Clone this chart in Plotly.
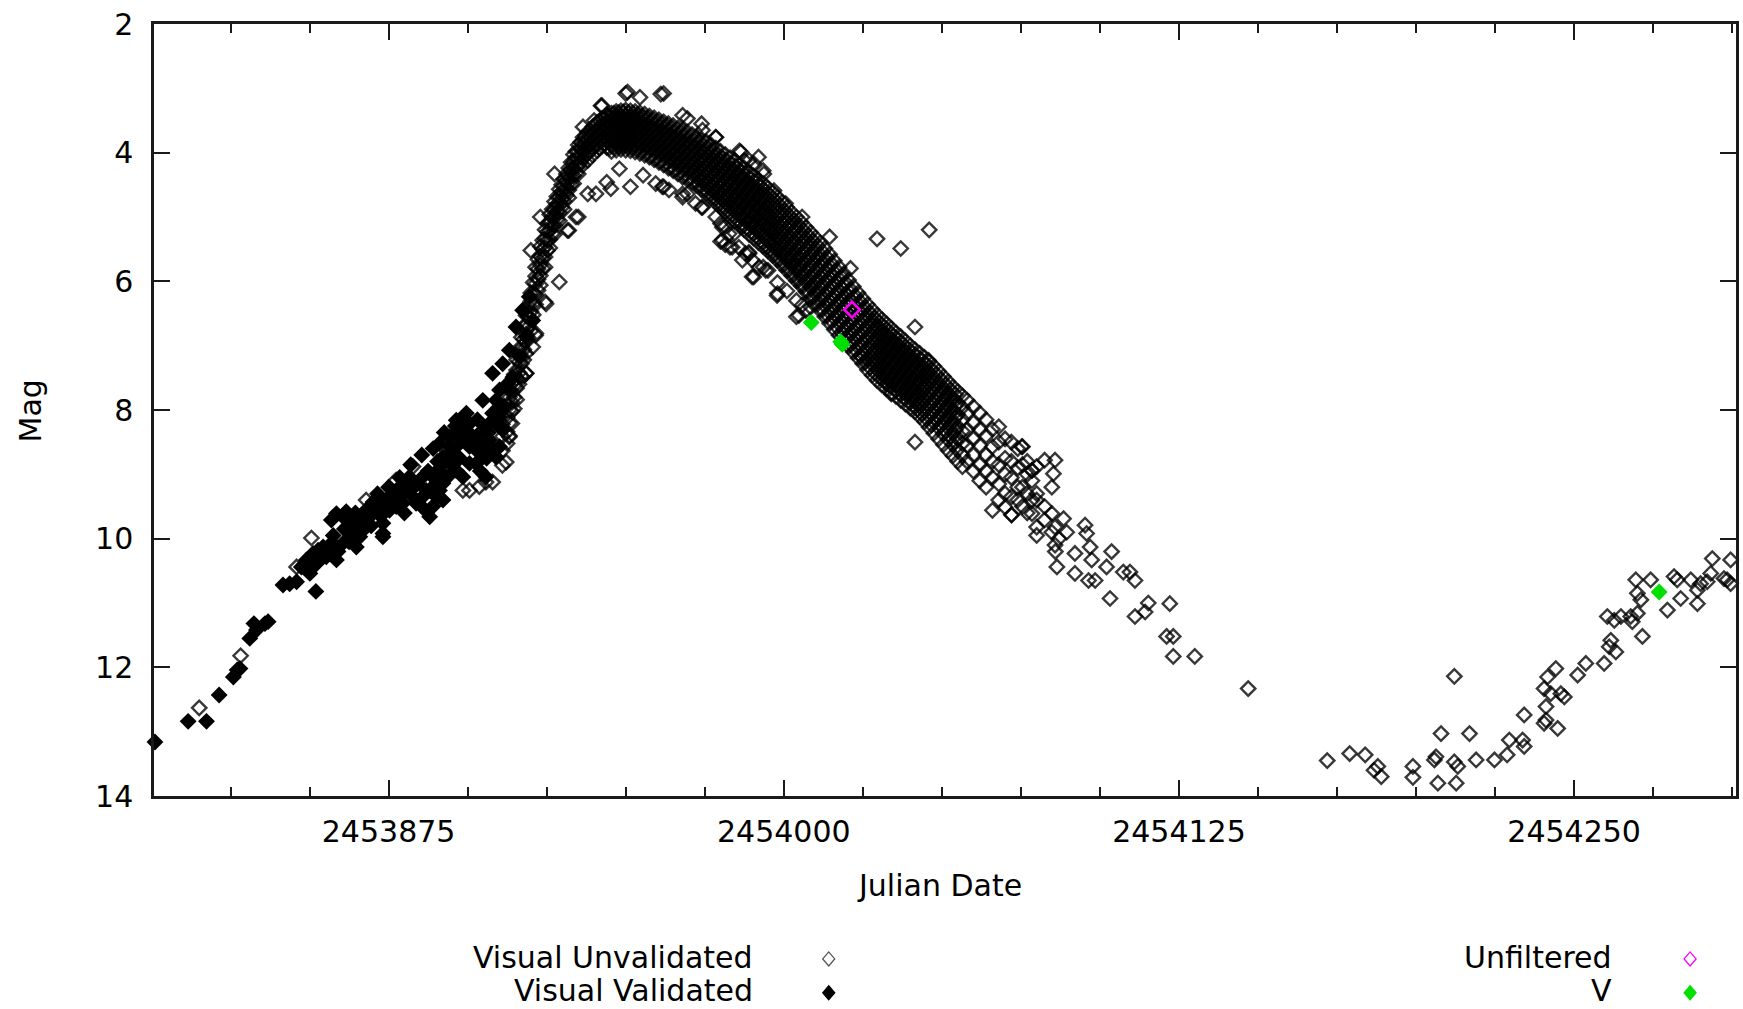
import plotly.graph_objects as go

# ---------------- DATA ----------------
# Visual Validated (filled black diamonds)
val_jd = [2453801.1, 2453811.6, 2453817.4, 2453821.4, 2453825.9, 2453827.1, 2453828.0,
          2453831.1, 2453832.4, 2453833.2, 2453835.9, 2453836.9, 2453841.6, 2453843.7,
          2453845.9, 2453852.0, 2453847.4, 2453849.0, 2453850.1, 2453851.1, 2453852.7,
          2453854.3, 2453855.3, 2453856.9, 2453858.5, 2453856.9, 2453858.5, 2453860.6,
          2453862.7, 2453861.6, 2453863.7, 2453864.8, 2453865.9, 2453866.9, 2453870.1,
          2453872.2, 2453873.2, 2453873.2, 2453875.3, 2453877.4, 2453878.5, 2453879.5,
          2453880.6, 2453881.6, 2453882.7, 2453883.7, 2453885.8, 2453886.9, 2453888.0,
          2453889.0, 2453890.1, 2453891.1, 2453892.2, 2453890.1, 2453892.2, 2453894.3,
          2453891.1, 2453894.3, 2453896.4, 2453898.5, 2453900.6, 2453902.7, 2453904.8,
          2453906.9, 2453909.0, 2453910.1, 2453911.1, 2453896.4, 2453898.5, 2453900.6,
          2453902.7, 2453904.8, 2453905.8, 2453909.0, 2453910.1, 2453904.8, 2453907.9,
          2453911.1, 2453913.2, 2453915.3, 2453917.4, 2453919.5, 2453910.1, 2453913.2,
          2453914.3, 2453916.4, 2453918.5, 2453920.6,
          2453881.6, 2453883.7, 2453885.8, 2453888.0, 2453889.0, 2453891.1, 2453892.2,
          2453894.3, 2453896.4, 2453898.5, 2453900.6, 2453902.7, 2453904.8, 2453906.9,
          2453907.9, 2453909.0, 2453898.5, 2453900.6, 2453896.4, 2453894.3, 2453892.2,
          2453890.1, 2453879.5, 2453877.4, 2453875.3, 2453873.2, 2453871.1, 2453869.0,
          2453866.9, 2453864.8, 2453862.7, 2453860.6, 2453858.5, 2453856.4, 2453854.3,
          2453852.2, 2453850.1, 2453873.2,
          2453857.5, 2453859.0, 2453861.0, 2453862.5, 2453864.5, 2453866.0, 2453868.0,
          2453869.5, 2453871.5, 2453872.5, 2453875.0, 2453876.5, 2453878.5, 2453880.0,
          2453882.0, 2453884.0, 2453885.5, 2453886.5, 2453887.5, 2453889.1, 2453890.5,
          2453892.6, 2453893.5, 2453895.0, 2453896.1, 2453897.5, 2453899.6, 2453901.0,
          2453903.1, 2453904.0, 2453906.6, 2453908.0, 2453910.1, 2453911.5, 2453912.5,
          2453906.0]
val_mag = [13.16, 12.84, 12.84, 12.43, 12.15, 12.04, 12.02,
           11.55, 11.32, 11.42, 11.32, 11.29, 10.72, 10.70,
           10.67, 10.82, 10.44, 10.33, 10.54, 10.23, 10.18,
           10.13, 10.28, 10.07, 10.33, 9.71, 9.61, 9.66,
           9.76, 9.58, 9.66, 10.13, 9.97, 9.87, 9.43,
           9.40, 9.76, 9.92, 9.56, 9.50, 9.35, 9.25,
           9.14, 9.04, 9.35, 9.45, 9.04, 9.25, 9.66,
           9.50, 9.35, 9.25, 9.40, 8.96, 8.83, 8.73,
           8.52, 8.42, 8.16, 8.11, 8.21, 8.42, 8.57,
           8.47, 8.21, 8.11, 8.31, 8.94, 9.04, 8.83,
           8.83, 8.73, 9.04, 8.73, 8.57, 7.85, 7.43,
           7.28, 7.07, 6.71, 6.45, 6.24, 7.69, 7.69,
           7.49, 7.17, 6.86, 6.61,
           9.25, 9.14, 9.35, 9.25, 9.04, 8.94, 8.73,
           8.83, 8.57, 8.47, 8.57, 8.62, 8.31, 8.21,
           8.05, 7.85, 8.31, 8.36, 8.36, 8.57, 9.14,
           9.14, 9.45, 9.25, 9.35, 9.50, 9.56, 9.66,
           9.66, 9.87, 9.92, 10.07, 10.13, 10.23, 10.28,
           10.39, 10.44, 9.97,
           9.95, 10.20, 9.85, 10.05, 9.60, 9.75, 9.55,
           9.80, 9.30, 9.65, 9.20, 9.45, 9.05, 9.60,
           8.85, 9.15, 8.70, 9.55, 8.95, 8.60, 8.80,
           8.35, 9.05, 8.65, 8.25, 8.75, 8.05, 8.50,
           8.15, 8.95, 8.35, 8.60, 8.05, 7.95, 7.60,
           8.75]

# Visual Unvalidated: scattered points on the early rise
rise_jd = [2453815.1, 2453828.2, 2453845.9, 2453850.6, 2453867.9, 2453877.4, 2453882.7,
           2453898.5, 2453900.6, 2453903.7, 2453905.8, 2453907.9, 2453912.2, 2453913.2,
           2453917.4, 2453918.5, 2453920.6, 2453921.6, 2453924.8]
rise_mag = [12.63, 11.82, 10.44, 9.99, 9.40, 9.09, 8.88,
            9.25, 9.25, 9.19, 9.12, 9.12, 8.81, 8.42,
            7.49, 7.43, 7.02, 6.81, 6.35]

# Visual Unvalidated: nightly estimates through maximum and the decline
band_jd = [2453911.0, 2453912.5, 2453914.0, 2453915.5, 2453917.0, 2453918.5, 2453920.0,
           2453921.5, 2453923.0, 2453924.5, 2453926.0, 2453927.5, 2453929.0, 2453930.5,
           2453932.0, 2453933.5, 2453935.0, 2453936.5, 2453938.0, 2453939.5, 2453941.0,
           2453942.5, 2453944.0, 2453945.5, 2453947.0, 2453948.5, 2453950.0, 2453951.5,
           2453953.0, 2453954.5, 2453956.0, 2453957.5, 2453959.0, 2453960.5, 2453962.0,
           2453963.5, 2453965.0, 2453966.5, 2453968.0, 2453969.5, 2453971.0, 2453972.5,
           2453974.0, 2453975.5, 2453977.0, 2453978.5, 2453980.0, 2453981.5, 2453983.0,
           2453984.5, 2453986.0, 2453987.5, 2453989.0, 2453990.5, 2453992.0, 2453993.5,
           2453995.0, 2453996.5, 2453998.0, 2453999.5, 2454001.0, 2454002.5, 2454004.0,
           2454005.5, 2454007.0, 2454008.5, 2454010.0, 2454011.5, 2454013.0, 2454014.5,
           2454016.0, 2454017.5, 2454019.0, 2454020.5, 2454022.0, 2454023.5, 2454025.0,
           2454026.5, 2454028.0, 2454029.5, 2454031.0, 2454032.5, 2454034.0, 2454035.5,
           2454037.0, 2454038.5, 2454040.0, 2454041.5, 2454043.0, 2454044.5, 2454046.0,
           2454047.5, 2454049.0, 2454050.5, 2454052.0, 2454053.5, 2454055.0, 2454056.5,
           2454058.0, 2454060.0, 2454062.0, 2454064.0, 2454066.0, 2454068.0, 2454070.0,
           2454072.0, 2454074.0, 2454075.5, 2454077.0, 2454078.5, 2454080.0, 2454082.5,
           2454084.8]
band_mag = [
    [8.22, 8.41, 8.63, 8.86], [7.93, 8.12, 8.34, 8.52], [7.58, 7.72, 7.88, 8.02, 8.21],
    [7.22, 7.38, 7.51, 7.66, 7.84], [6.87, 7.01, 7.16, 7.28, 7.47],
    [6.53, 6.66, 6.82, 6.94, 7.12, 7.43], [6.18, 6.31, 6.47, 6.58, 6.77, 5.52],
    [5.78, 5.92, 6.04, 6.21, 6.36, 6.84], [5.46, 5.61, 5.74, 5.91, 6.06, 5.0],
    [5.2, 5.34, 5.47, 5.62, 5.78, 6.32], [4.96, 5.09, 5.21, 5.35, 5.48],
    [4.76, 4.88, 5.01, 5.13, 5.27, 4.33], [4.57, 4.69, 4.81, 4.93, 5.06, 6.01],
    [4.41, 4.52, 4.63, 4.75, 4.88], [4.24, 4.36, 4.47, 4.58, 4.7, 5.21],
    [4.03, 4.14, 4.25, 4.36, 4.48], [3.88, 3.99, 4.1, 4.21, 4.33, 5.0],
    [3.76, 3.86, 3.97, 4.08, 4.19, 3.6], [3.68, 3.79, 3.9, 4.01, 4.12, 4.64],
    [3.6, 3.71, 3.82, 3.93, 4.04], [3.53, 3.64, 3.75, 3.86, 3.97],
    [3.47, 3.58, 3.68, 3.79, 3.9, 3.27], [3.42, 3.52, 3.61, 3.71, 3.81, 3.92, 4.46],
    [3.39, 3.48, 3.58, 3.68, 3.78, 3.89, 3.98], [3.36, 3.45, 3.56, 3.65, 3.75, 3.86, 3.96],
    [3.35, 3.44, 3.53, 3.64, 3.74, 3.84, 3.95],
    [3.34, 3.43, 3.53, 3.63, 3.73, 3.83, 3.96, 3.08],
    [3.35, 3.45, 3.54, 3.64, 3.75, 3.85, 3.97, 4.53],
    [3.36, 3.46, 3.56, 3.66, 3.76, 3.87, 3.99],
    [3.38, 3.48, 3.58, 3.68, 3.79, 3.89, 4.01, 3.14],
    [3.4, 3.5, 3.6, 3.71, 3.81, 3.92, 4.04], [3.43, 3.53, 3.63, 3.74, 3.84, 3.95, 4.07],
    [3.46, 3.56, 3.66, 3.77, 3.88, 3.99, 4.11], [3.49, 3.59, 3.7, 3.8, 3.91, 4.03, 4.15],
    [3.52, 3.62, 3.73, 3.84, 3.95, 4.07, 4.19, 3.08, 4.53],
    [3.55, 3.66, 3.77, 3.88, 3.99, 4.11, 4.24], [3.58, 3.69, 3.8, 3.92, 4.03, 4.15, 4.28],
    [3.62, 3.73, 3.84, 3.96, 4.08, 4.2, 4.33],
    [3.65, 3.76, 3.88, 4.0, 4.12, 4.25, 4.38, 3.42],
    [3.68, 3.8, 3.92, 4.04, 4.16, 4.29, 4.42, 4.64],
    [3.72, 3.84, 3.96, 4.08, 4.2, 4.33, 4.46], [3.75, 3.87, 4.0, 4.12, 4.25, 4.38, 4.51],
    [3.79, 3.92, 4.05, 4.18, 4.31, 4.44, 4.58, 4.85, 3.55],
    [3.83, 3.96, 4.1, 4.23, 4.37, 4.5, 4.64], [3.88, 4.01, 4.15, 4.29, 4.43, 4.57, 4.71],
    [3.93, 4.06, 4.2, 4.35, 4.49, 4.63, 4.78, 5.0, 3.76],
    [3.98, 4.12, 4.26, 4.41, 4.55, 4.7, 4.85, 5.1, 5.38],
    [4.03, 4.17, 4.32, 4.47, 4.62, 4.77, 4.92, 5.15, 5.43],
    [4.08, 4.23, 4.38, 4.53, 4.68, 4.84, 4.99, 5.47],
    [4.13, 4.28, 4.44, 4.59, 4.75, 4.91, 5.07, 5.25],
    [4.19, 4.34, 4.5, 4.66, 4.82, 4.98, 5.14, 3.97],
    [4.24, 4.4, 4.56, 4.72, 4.88, 5.04, 5.2, 4.12],
    [4.3, 4.46, 4.62, 4.78, 4.94, 5.1, 5.27, 5.55],
    [4.36, 4.52, 4.68, 4.84, 5.0, 5.16, 5.33, 4.17, 5.93],
    [4.42, 4.58, 4.74, 4.9, 5.07, 5.23, 5.4, 4.07],
    [4.48, 4.64, 4.8, 4.97, 5.13, 5.3, 5.46, 5.78, 4.28],
    [4.55, 4.71, 4.87, 5.04, 5.2, 5.37, 5.53, 5.83],
    [4.62, 4.78, 4.94, 5.11, 5.27, 5.44, 5.6],
    [4.69, 4.85, 5.01, 5.18, 5.34, 5.51, 5.67, 6.02, 6.19],
    [4.77, 4.93, 5.09, 5.25, 5.42, 5.58, 5.75],
    [4.85, 5.01, 5.17, 5.33, 5.5, 5.66, 5.83, 6.15],
    [4.93, 5.09, 5.25, 5.41, 5.58, 5.74, 5.91],
    [5.0, 5.17, 5.33, 5.49, 5.66, 5.82, 5.99, 6.3, 6.55],
    [5.08, 5.25, 5.41, 5.58, 5.74, 5.91, 6.07],
    [5.16, 5.33, 5.5, 5.66, 5.83, 6.0, 6.16, 6.45],
    [5.24, 5.41, 5.58, 5.75, 5.92, 6.09, 6.26, 6.4],
    [5.32, 5.49, 5.66, 5.84, 6.01, 6.18, 6.35],
    [5.4, 5.58, 5.75, 5.93, 6.1, 6.28, 6.45],
    [5.49, 5.67, 5.85, 6.02, 6.2, 6.38, 6.55],
    [5.58, 5.76, 5.94, 6.12, 6.3, 6.48, 6.65, 5.31],
    [5.68, 5.86, 6.04, 6.22, 6.4, 6.57, 6.75],
    [5.78, 5.96, 6.14, 6.31, 6.49, 6.66, 6.84],
    [5.88, 6.05, 6.23, 6.4, 6.58, 6.75, 6.92],
    [5.98, 6.15, 6.32, 6.5, 6.67, 6.84, 7.01],
    [6.08, 6.25, 6.42, 6.59, 6.76, 6.93, 7.1],
    [6.18, 6.35, 6.51, 6.68, 6.85, 7.02, 7.19],
    [6.27, 6.44, 6.61, 6.78, 6.95, 7.12, 7.28],
    [6.36, 6.53, 6.7, 6.87, 7.04, 7.21, 7.38],
    [6.44, 6.61, 6.78, 6.95, 7.12, 7.29, 7.46],
    [6.52, 6.69, 6.86, 7.03, 7.2, 7.37, 7.54, 5.34],
    [6.59, 6.76, 6.93, 7.1, 7.27, 7.44, 7.61],
    [6.66, 6.83, 7.0, 7.17, 7.34, 7.5, 7.67, 7.59],
    [6.73, 6.9, 7.06, 7.23, 7.4, 7.56, 7.73, 7.75],
    [6.8, 6.96, 7.13, 7.29, 7.46, 7.62, 7.79],
    [6.86, 7.03, 7.19, 7.36, 7.52, 7.68, 7.85, 5.49],
    [6.93, 7.09, 7.26, 7.42, 7.58, 7.75, 7.91],
    [7.0, 7.16, 7.32, 7.48, 7.65, 7.81, 7.97],
    [7.06, 7.22, 7.38, 7.55, 7.71, 7.87, 8.03, 6.71, 8.5],
    [7.12, 7.29, 7.45, 7.61, 7.78, 7.94, 8.1],
    [7.18, 7.35, 7.52, 7.68, 7.85, 8.02, 8.18],
    [7.25, 7.42, 7.59, 7.76, 7.93, 8.1, 8.27, 5.2],
    [7.32, 7.5, 7.67, 7.85, 8.02, 8.19, 8.36],
    [7.4, 7.58, 7.76, 7.93, 8.11, 8.28, 8.45],
    [7.48, 7.66, 7.84, 8.02, 8.2, 8.37, 8.54],
    [7.56, 7.74, 7.92, 8.1, 8.28, 8.46, 8.63],
    [7.64, 7.82, 8.0, 8.18, 8.36, 8.54, 8.71],
    [7.71, 7.89, 8.07, 8.26, 8.44, 8.62, 8.8],
    [7.78, 7.96, 8.15, 8.33, 8.52, 8.7, 8.88],
    [7.85, 8.05, 8.3, 8.55, 8.8], [7.95, 8.2, 8.45, 8.7, 8.95],
    [8.05, 8.3, 8.55, 8.85, 9.1], [8.15, 8.4, 8.7, 8.95, 9.2],
    [8.3, 8.57, 8.8, 9.05, 9.56], [8.26, 8.5, 8.85, 9.15, 9.4],
    [8.45, 8.75, 9.0, 9.3, 9.51], [8.5, 8.8, 9.05, 9.35, 9.63],
    [8.6, 8.9, 9.2, 9.4], [8.57, 8.85, 9.2, 9.5], [8.8, 9.0, 9.3, 9.6],
    [8.94, 9.1, 9.4, 9.61], [8.88, 9.3, 9.4, 9.82, 9.95], [8.78, 9.5, 9.71],
    [9.2, 9.61, 9.9],
]

# Visual Unvalidated: further estimates on the nights in between (dense core)
core_jd = [2453913.25, 2453914.75, 2453916.25, 2453917.75, 2453919.25, 2453920.75,
           2453922.25, 2453923.75, 2453925.25, 2453926.75, 2453928.25, 2453929.75,
           2453931.25, 2453932.75, 2453934.25, 2453935.75, 2453937.25, 2453938.75,
           2453940.25, 2453941.75, 2453943.25, 2453944.75, 2453946.25, 2453947.75,
           2453949.25, 2453950.75, 2453952.25, 2453953.75, 2453955.25, 2453956.75,
           2453958.25, 2453959.75, 2453961.25, 2453962.75, 2453964.25, 2453965.75,
           2453967.25, 2453968.75, 2453970.25, 2453971.75, 2453973.25, 2453974.75,
           2453976.25, 2453977.75, 2453979.25, 2453980.75, 2453982.25, 2453983.75,
           2453985.25, 2453986.75, 2453988.25, 2453989.75, 2453991.25, 2453992.75,
           2453994.25, 2453995.75, 2453997.25, 2453998.75, 2454000.25, 2454001.75,
           2454003.25, 2454004.75, 2454006.25, 2454007.75, 2454009.25, 2454010.75,
           2454012.25, 2454013.75, 2454015.25, 2454016.75, 2454018.25, 2454019.75,
           2454021.25, 2454022.75, 2454024.25, 2454025.75, 2454027.25, 2454028.75,
           2454030.25, 2454031.75, 2454033.25, 2454034.75, 2454036.25, 2454037.75,
           2454039.25, 2454040.75, 2454042.25, 2454043.75, 2454045.25, 2454046.75,
           2454048.25, 2454049.75, 2454051.25, 2454052.75, 2454054.25]
core_mag = [
    [7.8, 8.0, 8.2, 8.4], [7.45, 7.62, 7.8, 7.98], [7.08, 7.25, 7.42, 7.6],
    [6.72, 6.9, 7.06, 7.22], [6.38, 6.55, 6.71, 6.88], [6.02, 6.18, 6.35, 6.52],
    [5.66, 5.81, 5.97, 6.14], [5.36, 5.5, 5.64, 5.8], [5.1, 5.23, 5.36, 5.52],
    [4.88, 5.0, 5.13, 5.26], [4.68, 4.8, 4.92, 5.04], [4.5, 4.61, 4.72, 4.85],
    [4.33, 4.44, 4.55, 4.66], [4.15, 4.26, 4.37, 4.49], [3.98, 4.09, 4.2, 4.32],
    [3.84, 3.94, 4.05, 4.16], [3.74, 3.84, 3.94, 4.05], [3.66, 3.76, 3.87, 3.98],
    [3.58, 3.68, 3.79, 3.9], [3.51, 3.62, 3.72, 3.83, 3.93],
    [3.46, 3.56, 3.66, 3.76, 3.86], [3.42, 3.52, 3.62, 3.72, 3.83, 3.93],
    [3.39, 3.49, 3.6, 3.7, 3.8, 3.91], [3.38, 3.48, 3.58, 3.69, 3.79, 3.9],
    [3.37, 3.47, 3.57, 3.68, 3.78, 3.89], [3.38, 3.48, 3.58, 3.68, 3.79, 3.9],
    [3.39, 3.49, 3.6, 3.7, 3.81, 3.92], [3.41, 3.51, 3.62, 3.72, 3.83, 3.94],
    [3.44, 3.54, 3.65, 3.75, 3.86, 3.97], [3.47, 3.57, 3.68, 3.78, 3.89, 4.0],
    [3.5, 3.6, 3.71, 3.82, 3.93, 4.04], [3.53, 3.63, 3.74, 3.85, 3.96, 4.08],
    [3.56, 3.66, 3.78, 3.89, 4.0, 4.12], [3.59, 3.7, 3.81, 3.93, 4.04, 4.16],
    [3.62, 3.73, 3.85, 3.97, 4.09, 4.21], [3.66, 3.77, 3.89, 4.01, 4.13, 4.26],
    [3.69, 3.81, 3.93, 4.05, 4.17, 4.3], [3.73, 3.85, 3.97, 4.09, 4.21, 4.34],
    [3.76, 3.88, 4.01, 4.13, 4.26, 4.39], [3.8, 3.92, 4.05, 4.17, 4.3, 4.43],
    [3.84, 3.97, 4.1, 4.23, 4.36, 4.5], [3.88, 4.01, 4.15, 4.28, 4.42, 4.56],
    [3.93, 4.06, 4.2, 4.34, 4.48, 4.62], [3.98, 4.12, 4.26, 4.4, 4.54, 4.69],
    [4.03, 4.17, 4.31, 4.46, 4.61, 4.76], [4.08, 4.22, 4.37, 4.52, 4.67, 4.83],
    [4.13, 4.28, 4.43, 4.58, 4.74, 4.9], [4.18, 4.33, 4.49, 4.65, 4.81, 4.97],
    [4.24, 4.39, 4.55, 4.71, 4.87, 5.04], [4.3, 4.45, 4.61, 4.77, 4.94, 5.1],
    [4.35, 4.51, 4.67, 4.84, 5.0, 5.17], [4.41, 4.57, 4.73, 4.9, 5.06, 5.23],
    [4.47, 4.63, 4.8, 4.96, 5.13, 5.3], [4.53, 4.7, 4.86, 5.03, 5.2, 5.37],
    [4.6, 4.76, 4.93, 5.1, 5.27, 5.44], [4.67, 4.83, 5.0, 5.17, 5.34, 5.51],
    [4.74, 4.9, 5.07, 5.24, 5.41, 5.58], [4.82, 4.98, 5.15, 5.32, 5.49, 5.66],
    [4.9, 5.06, 5.23, 5.4, 5.57, 5.74], [4.98, 5.14, 5.31, 5.48, 5.65, 5.82],
    [5.05, 5.22, 5.39, 5.56, 5.73, 5.9], [5.13, 5.3, 5.47, 5.64, 5.81, 5.98],
    [5.21, 5.38, 5.55, 5.72, 5.9, 6.07], [5.29, 5.46, 5.64, 5.81, 5.99, 6.16],
    [5.37, 5.55, 5.72, 5.9, 6.08, 6.25], [5.45, 5.63, 5.81, 5.99, 6.17, 6.35],
    [5.54, 5.72, 5.9, 6.08, 6.26, 6.44], [5.63, 5.81, 5.99, 6.17, 6.35, 6.53],
    [5.73, 5.91, 6.09, 6.27, 6.45, 6.62], [5.83, 6.01, 6.19, 6.36, 6.54, 6.71],
    [5.93, 6.1, 6.28, 6.45, 6.63, 6.8], [6.03, 6.2, 6.37, 6.55, 6.72, 6.89],
    [6.13, 6.3, 6.47, 6.64, 6.81, 6.98], [6.23, 6.4, 6.56, 6.73, 6.9, 7.07],
    [6.32, 6.49, 6.66, 6.83, 7.0, 7.16], [6.41, 6.58, 6.75, 6.92, 7.09, 7.26],
    [6.49, 6.66, 6.83, 7.0, 7.17, 7.34], [6.57, 6.74, 6.91, 7.08, 7.25, 7.42],
    [6.64, 6.81, 6.98, 7.15, 7.32, 7.49], [6.71, 6.88, 7.05, 7.22, 7.39, 7.55],
    [6.78, 6.95, 7.11, 7.28, 7.45, 7.61], [6.85, 7.01, 7.18, 7.34, 7.51, 7.67],
    [6.91, 7.08, 7.24, 7.41, 7.57, 7.73], [6.98, 7.14, 7.31, 7.47, 7.63, 7.8],
    [7.05, 7.21, 7.37, 7.53, 7.7, 7.86], [7.11, 7.27, 7.43, 7.6, 7.76, 7.92],
    [7.17, 7.34, 7.5, 7.66, 7.83, 7.99], [7.23, 7.4, 7.57, 7.73, 7.9, 8.06],
    [7.3, 7.47, 7.64, 7.81, 7.98, 8.14], [7.37, 7.55, 7.72, 7.89, 8.06, 8.23],
    [7.45, 7.63, 7.8, 7.98, 8.15], [7.53, 7.71, 7.89, 8.06, 8.24],
    [7.61, 7.79, 7.97, 8.15, 8.33], [7.69, 7.87, 8.05, 8.23, 8.41],
    [7.76, 7.94, 8.12, 8.31, 8.49],
]

# Visual Unvalidated: scattered estimates around the edges of the main band
fringe_jd = [2453950.6, 2453961.1, 2453942.2, 2453940.0, 2453969.5, 2453974.3, 2453978.5,
             2453986.4, 2453989.0, 2453993.7, 2453996.9, 2454000.6, 2454005.8, 2454021.1,
             2453945.3, 2453940.6, 2453934.3, 2453931.6, 2453961.6, 2453968.0, 2453974.3,
             2453980.6, 2453983.7, 2453989.0, 2453990.0, 2453994.3, 2453997.9, 2454004.8,
             2454005.8, 2454024.8, 2454045.8, 2453980.6, 2453982.7, 2453985.8, 2453987.9,
             2453990.0, 2453992.2, 2453986.9, 2453959.5, 2453963.7, 2453968.0, 2453972.1,
             2453955.5, 2453948.0]
fringe_mag = [3.06, 3.09, 3.27, 3.50, 3.47, 3.65, 3.76,
              3.99, 4.12, 4.33, 4.59, 4.79, 5.00, 5.80,
              4.56, 4.64, 5.00, 5.21, 4.53, 4.64, 4.85,
              5.36, 5.47, 5.57, 5.93, 5.83, 6.22, 6.53,
              6.37, 7.18, 7.23, 5.16, 5.26, 5.47, 5.57,
              5.67, 5.78, 5.67, 4.48, 4.58, 4.69, 4.79,
              4.35, 4.25]

# Visual Unvalidated: late decline, minimum and the following rise
tail_jd = [2454075.3, 2454085.8, 2454085.3, 2454078.5, 2454095.3, 2454095.8, 2454088.5,
           2454085.8, 2454072.1, 2454085.8, 2454085.9, 2454086.4, 2454092.1, 2454092.1,
           2454096.9, 2454097.4, 2454096.4, 2454098.5, 2454103.7, 2454102.1, 2454107.4,
           2454109.5, 2454111.1, 2454103.2, 2454111.1, 2454114.3, 2454115.3, 2454122.1,
           2454121.1, 2454123.2, 2454123.2, 2454130.0, 2454146.9, 2454089.5, 2454087.0,
           2454171.9, 2454179.0, 2454183.9, 2454186.7, 2454187.9, 2454189.0, 2454199.0,
           2454199.0, 2454205.8, 2454206.3, 2454206.9, 2454207.9, 2454212.1, 2454212.1,
           2454213.2, 2454212.7, 2454216.9, 2454219.0, 2454224.8, 2454228.8, 2454229.5,
           2454233.7, 2454234.2, 2454234.2, 2454241.1, 2454240.5, 2454244.8, 2454241.1,
           2454240.5, 2454242.6, 2454241.6, 2454244.2, 2454245.8, 2454246.9, 2454251.1,
           2454253.7, 2454259.5, 2454260.5, 2454262.7, 2454261.6, 2454261.1, 2454263.2,
           2454264.8, 2454267.9, 2454270.0, 2454268.4, 2454271.6, 2454269.5, 2454270.0,
           2454274.2, 2454271.1, 2454279.5, 2454282.6, 2454281.6, 2454283.7, 2454289.0,
           2454289.0, 2454290.0, 2454293.7, 2454293.2, 2454299.5, 2454298.4, 2454299.5,
           2454297.4, 2454286.9, 2454292.1]
tail_mag = [8.57, 8.78, 8.99, 8.94, 9.79, 9.92, 9.69,
            9.82, 9.63, 10.10, 10.20, 10.44, 10.23, 10.54,
            10.13, 10.33, 10.65, 10.65, 10.20, 10.44, 10.52,
            10.52, 10.65, 10.93, 11.21, 11.14, 11.00, 11.01,
            11.52, 11.52, 11.83, 11.83, 12.33, 9.90, 10.00,
            13.45, 13.34, 13.36, 13.60, 13.54, 13.70, 13.54,
            13.71, 13.44, 13.39, 13.80, 13.03, 12.14, 13.47,
            13.54, 13.80, 13.03, 13.44, 13.44, 13.36, 13.13,
            13.13, 13.23, 12.74, 12.82, 12.87, 12.95, 12.61,
            12.33, 12.41, 12.15, 12.02, 12.41, 12.46, 12.12,
            11.94, 11.94, 11.21, 11.27, 11.58, 11.68, 11.76,
            11.21, 11.21, 11.16, 11.29, 11.52, 10.64, 10.85,
            10.64, 10.95, 11.11, 10.64, 10.59, 10.93, 10.80,
            11.01, 10.70, 10.31, 10.54, 10.33, 10.64, 10.70,
            10.62, 10.64, 10.67]

# Unfiltered and V
unf_jd = [2454021.6]
unf_mag = [6.44]
v_jd = [2454008.7, 2454018.0, 2454018.5, 2454276.9]
v_mag = [6.64, 6.94, 6.98, 10.83]

# Axes
x_range = [2453800.8, 2454301.2]
y_range = [14, 2]
x_tick0, x_dtick, x_minor = 2453875, 125, 25

# ---------------- BUILD ----------------
unval_jd = list(rise_jd) + list(fringe_jd)
unval_mag = list(rise_mag) + list(fringe_mag)
for nights, mag_lists in ((band_jd, band_mag), (core_jd, core_mag)):
    for jd, mags in zip(nights, mag_lists):
        for m in mags:
            unval_jd.append(jd)
            unval_mag.append(m)
unval_jd += tail_jd
unval_mag += tail_mag

FONT = "DejaVu Sans"
AX = "#1a1a1a"
UNVAL_C = "rgba(0,0,0,0.78)"

fig = go.Figure()
fig.add_trace(go.Scatter(
    x=unval_jd, y=unval_mag, mode="markers", name="Visual Unvalidated", cliponaxis=False,
    marker=dict(symbol="diamond-open", size=11, color=UNVAL_C,
                line=dict(width=2.4, color=UNVAL_C))))
fig.add_trace(go.Scatter(
    x=val_jd, y=val_mag, mode="markers", name="Visual Validated", cliponaxis=False,
    marker=dict(symbol="diamond", size=13, color="black", line=dict(width=0))))
fig.add_trace(go.Scatter(
    x=unf_jd, y=unf_mag, mode="markers", name="Unfiltered", cliponaxis=False,
    marker=dict(symbol="diamond-open", size=12, color="#ff00ff",
                line=dict(width=2.5, color="#ff00ff"))))
fig.add_trace(go.Scatter(
    x=v_jd, y=v_mag, mode="markers", name="V", cliponaxis=False,
    marker=dict(symbol="diamond", size=13, color="#00e000", line=dict(width=0))))

L, R, T, B = 154, 1739, 23.5, 796
W, H = 1743, 1009
pw, ph = R - L, B - T


def px(x):
    return (x - L) / pw


def py(y):
    return (B - y) / ph


annotations = [
    dict(text="Julian Date", x=px(941), y=py(886), xref="paper", yref="paper",
         showarrow=False, xanchor="center", yanchor="middle", font=dict(size=30)),
    dict(text="Mag", x=px(30), y=py(411), xref="paper", yref="paper", textangle=-90,
         showarrow=False, xanchor="center", yanchor="middle", font=dict(size=30)),
]
legend_rows = [
    ("Visual Unvalidated", 756, 957),
    ("Visual Validated", 756, 990),
    ("Unfiltered", 1617, 957),
    ("V", 1617, 990),
]
for txt, xr, yc in legend_rows:
    annotations.append(dict(text=txt, x=px(xr), y=py(yc), xref="paper", yref="paper",
                            showarrow=False, xanchor="right", yanchor="middle",
                            height=28, font=dict(size=30)))

dpath = "M -6 0 L 0 7 L 6 0 L 0 -7 Z"
legend_keys = [
    (830, 959, "rgba(255,255,255,0)", "#555555"),
    (830, 993, "black", "black"),
    (1693, 959, "rgba(255,255,255,0)", "#ff00ff"),
    (1693, 993, "#00e000", "#00e000"),
]
shapes = []
for xc, yc, fill, line in legend_keys:
    shapes.append(dict(type="path", xref="paper", yref="paper", xsizemode="pixel",
                       ysizemode="pixel", xanchor=px(xc), yanchor=py(yc), path=dpath,
                       fillcolor=fill, line=dict(color=line, width=1.3)))

fig.update_layout(
    width=W, height=H,
    margin=dict(l=L, r=W - R, t=T, b=H - B, pad=0),
    plot_bgcolor="white", paper_bgcolor="white", showlegend=False,
    font=dict(family=FONT, size=30, color="black"),
    annotations=annotations, shapes=shapes,
    xaxis=dict(range=x_range, tickmode="linear", tick0=x_tick0, dtick=x_dtick,
               tickformat="d", ticks="inside", ticklen=16, tickwidth=2, tickcolor=AX,
               showline=True, linewidth=2.5, linecolor=AX, mirror="ticks",
               showgrid=False, zeroline=False, ticklabelstandoff=7,
               tickfont=dict(size=30),
               minor=dict(ticks="inside", ticklen=9, tickwidth=2, tickcolor=AX,
                          dtick=x_minor, tick0=x_tick0, showgrid=False)),
    yaxis=dict(range=y_range, tickmode="linear", tick0=2, dtick=2, tickformat="d",
               ticks="inside", ticklen=16, tickwidth=2, tickcolor=AX,
               showline=True, linewidth=2.5, linecolor=AX, mirror="ticks",
               showgrid=False, zeroline=False, ticklabelstandoff=12,
               tickfont=dict(size=30)),
)

fig.write_html("out.html", config={"displayModeBar": False},
               post_script="document.body.style.margin='0';document.body.style.padding='0';")
